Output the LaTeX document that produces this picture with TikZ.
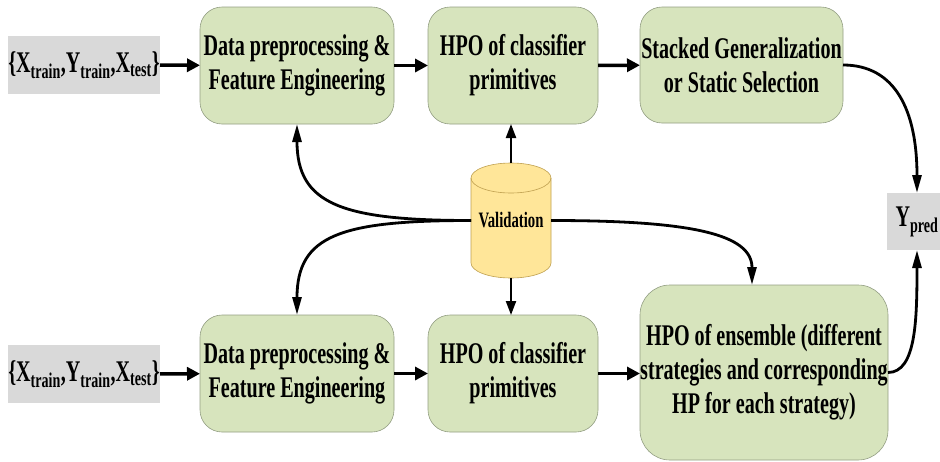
\documentclass[tikz,border=0pt]{standalone}
\usepackage{fontspec}
\setmainfont{Liberation Serif}[FakeStretch=0.67]
\usetikzlibrary{arrows.meta,calc}
\definecolor{boxgreen}{HTML}{D7E4BD}
\definecolor{boxedge}{HTML}{939E83}
\definecolor{cylfill}{HTML}{FFE699}
\definecolor{cyledge}{HTML}{BFA050}
\definecolor{inputgray}{HTML}{D9D9D9}
\tikzset{
  stepbox/.style={draw=boxedge, fill=boxgreen, line width=0.6pt, rounded corners=22pt,
    inner sep=0pt, outer sep=0pt, align=center, font=\fontsize{30}{34}\selectfont\bfseries},
  graybox/.style={fill=inputgray, inner sep=0pt, outer sep=0pt, align=center,
    font=\fontsize{30}{34}\selectfont\bfseries},
  valnode/.style={inner sep=0pt, outer sep=0pt, minimum width=80pt, minimum height=115pt,
    font=\fontsize{22}{24}\selectfont\bfseries},
  thickarrow/.style={line width=3.5pt, -{Triangle[length=13pt,width=13pt]}},
  curvearrow/.style={line width=2.8pt, -{Triangle[length=18pt,width=9pt]}},
  shortarrow/.style={line width=2.2pt, -{Triangle[length=14pt,width=10pt]}},
}
\begin{document}
\begin{tikzpicture}[x=1pt,y=-1pt]
\useasboundingbox (0,0) rectangle (940,461);
% inputs
\node[graybox, minimum width=152pt, minimum height=58pt] (in1) at (84,65)
  {\{X\textsubscript{train},Y\textsubscript{train},X\textsubscript{test}\}};
\node[graybox, minimum width=152pt, minimum height=58pt] (in2) at (84,374)
  {\{X\textsubscript{train},Y\textsubscript{train},X\textsubscript{test}\}};
% top row
\node[stepbox, minimum width=194pt, minimum height=117pt] (box1) at (297,65.5)
  {Data preprocessing \&\\Feature Engineering};
\node[stepbox, minimum width=170pt, minimum height=117pt] (box2) at (513,65.5)
  {HPO of classifier\\primitives};
\node[stepbox, minimum width=203pt, minimum height=116pt] (box3) at (741.5,65)
  {Stacked Generalization\\or Static Selection};
% bottom row
\node[stepbox, minimum width=194pt, minimum height=117pt] (box4) at (297,373.5)
  {Data preprocessing \&\\Feature Engineering};
\node[stepbox, minimum width=170pt, minimum height=117pt] (box5) at (513,373.5)
  {HPO of classifier\\primitives};
\node[stepbox, rounded corners=30pt, minimum width=248pt, minimum height=175pt] (box6) at (764,372.5)
  {HPO of ensemble (different\\strategies and corresponding\\HP for each strategy)};
% output
\node[graybox, minimum width=60pt, minimum height=57pt] (yp) at (917,221.5)
  {Y\textsubscript{pred}};
% validation cylinder
\path[fill=cylfill, draw=cyledge, line width=0.6pt]
  (471,178) -- (471,263) arc[start angle=180, end angle=0, x radius=40, y radius=15]
  -- (551,178) arc[start angle=0, end angle=-180, x radius=40, y radius=15] -- cycle;
\draw[cyledge, line width=0.6pt] (471,178) arc[start angle=180, end angle=0, x radius=40, y radius=15];
\node[valnode] (val) at (511,220.5) {Validation};
\coordinate (b6in) at ($(box6.north)+(-12,0)$);
% straight arrows
\draw[thickarrow] (in1) -- (box1);
\draw[thickarrow] (box1) -- (box2);
\draw[thickarrow] (box2) -- (box3);
\draw[thickarrow] (in2) -- (box4);
\draw[thickarrow] (box4) -- (box5);
\draw[thickarrow] (box5.east) -- (box5.east -| box6.west);
% validation arrows
\draw[shortarrow] (val.north) -- (val.north |- box2.south);
\draw[shortarrow] (val.south) -- (val.south |- box5.north);
\draw[curvearrow] (val.west) .. controls +(-130,0) and +(0,80) .. (box1.south);
\draw[curvearrow] (val.west) .. controls +(-130,0) and +(0,-80) .. (box4.north);
\draw[curvearrow] (val.east) .. controls +(140,0) and +(0,-51) .. (b6in);
% to output
\draw[curvearrow] (box3.east) .. controls +(52,0) and +(0,-83) .. (yp.north);
\draw[curvearrow] (box6.east) .. controls +(28,0) and +(0,70) .. (yp.south);
\end{tikzpicture}
\end{document}
